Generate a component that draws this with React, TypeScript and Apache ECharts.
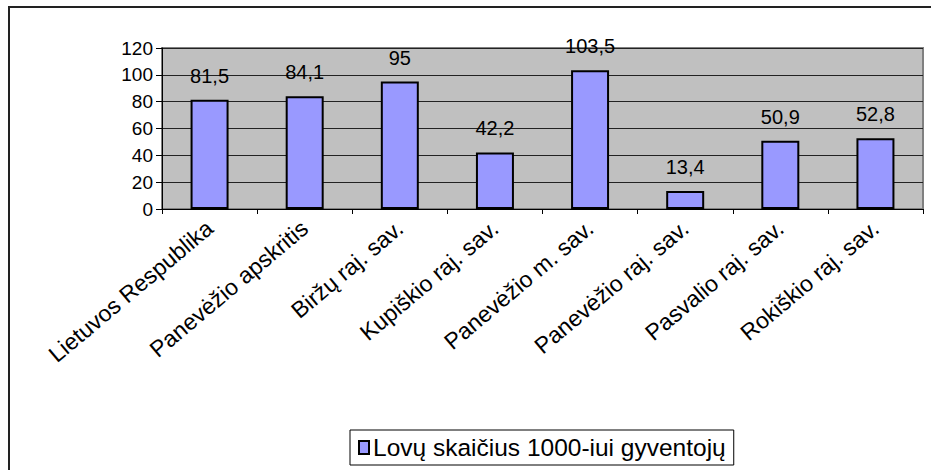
import React, { useEffect, useRef } from "react";
import * as echarts from "echarts";

const categories = [
  "Lietuvos Respublika",
  "Panevėžio apskritis",
  "Biržų raj. sav.",
  "Kupiškio raj. sav.",
  "Panevėžio m. sav.",
  "Panevėžio raj. sav.",
  "Pasvalio raj. sav.",
  "Rokiškio raj. sav.",
];
const values = [81.5, 84.1, 95, 42.2, 103.5, 13.4, 50.9, 52.8];
const seriesName = "Lovų skaičius 1000-iui gyventojų";

const FONT = "'Liberation Sans', Arial, sans-serif";

export default function App() {
  const ref = useRef<HTMLDivElement>(null);
  useEffect(() => {
    if (!ref.current) return;
    const chart = echarts.init(ref.current, undefined, { renderer: "svg" });
    chart.setOption({
      animation: false,
      backgroundColor: "#fff",
      textStyle: { fontFamily: FONT },
      graphic: [
        {
          type: "rect",
          shape: { x: 9, y: 7, width: 940, height: 480 },
          style: { fill: "none", stroke: "#222", lineWidth: 2 },
          silent: true,
        },
      ],
      grid: {
        left: 162,
        right: 8,
        top: 48,
        bottom: 261,
        show: true,
        backgroundColor: "#C0C0C0",
        borderColor: "#808080",
        borderWidth: 2,
      },
      legend: {
        data: [{ name: seriesName, icon: "rect" }],
        left: 350,
        top: 430,
        padding: [5, 8, 5, 8],
        borderColor: "#000",
        borderWidth: 1,
        itemWidth: 10,
        itemHeight: 13,
        itemGap: 4,
        textStyle: { fontSize: 24.5, color: "#000", fontFamily: FONT, padding: [0, 0, 0, -1] },
      },
      xAxis: {
        type: "category",
        data: categories,
        axisLine: { show: true, lineStyle: { color: "#000", width: 1 } },
        axisTick: { show: true, alignWithLabel: false, length: 5, lineStyle: { color: "#000" } },
        axisLabel: {
          rotate: 40,
          fontSize: 23,
          color: "#000",
          margin: 16,
          fontFamily: FONT,
          interval: 0,
        },
      },
      yAxis: {
        type: "value",
        min: 0,
        max: 120,
        interval: 20,
        axisLine: { show: true, lineStyle: { color: "#000", width: 1 } },
        axisTick: { show: true, length: 6, lineStyle: { color: "#000" } },
        axisLabel: { fontSize: 19, color: "#000", margin: 9, fontFamily: FONT },
        splitLine: { show: true, lineStyle: { color: "#222", width: 1 } },
      },
      series: [
        {
          name: seriesName,
          type: "bar",
          data: values,
          barWidth: 38,
          itemStyle: { color: "#9999FF", borderColor: "#000", borderWidth: 2 },
          label: {
            show: true,
            position: "top",
            distance: 14,
            fontSize: 20,
            color: "#000",
            fontFamily: FONT,
            formatter: (p: any) => String(p.value).replace(".", ","),
          },
        },
      ],
    });
    return () => chart.dispose();
  }, []);
  return (
    <div
      ref={ref}
      style={{ position: "fixed", left: 0, top: 0, width: 931, height: 470 }}
    />
  );
}
